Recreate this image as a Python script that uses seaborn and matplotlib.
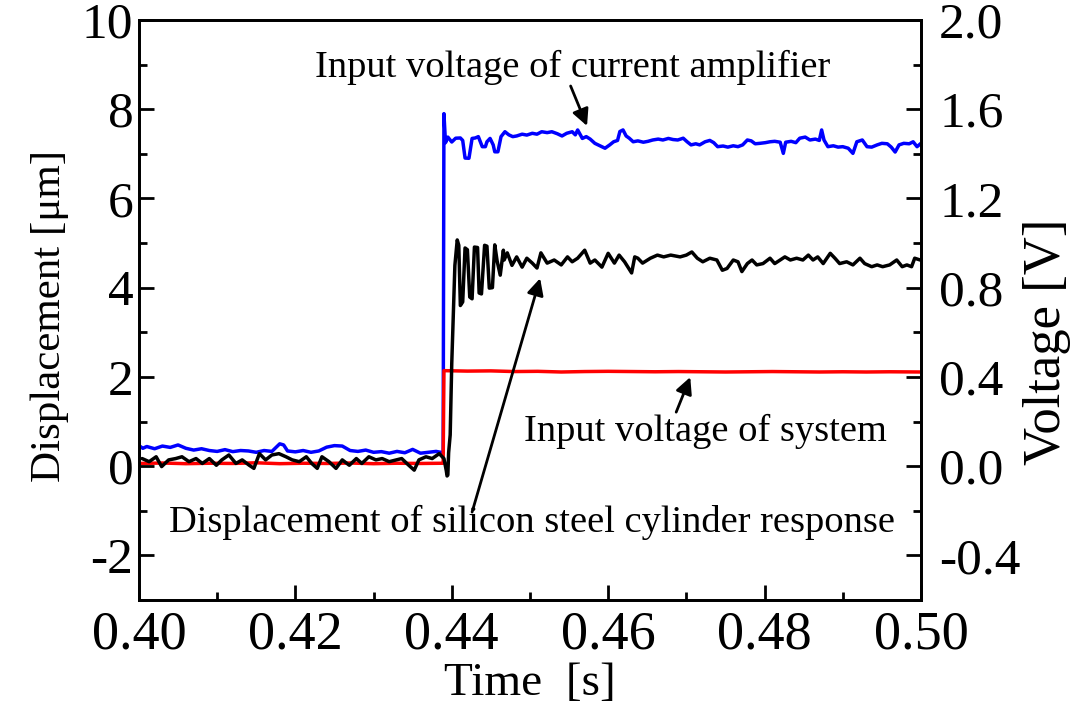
import numpy as np
import pandas as pd
import matplotlib
matplotlib.use("Agg")
import matplotlib.pyplot as plt
from matplotlib.ticker import MultipleLocator
import seaborn as sns

# ---------------- data ----------------
# Input voltage of current amplifier [V]
amp_t = [0.4000, 0.4005, 0.4010, 0.4020, 0.4030, 0.4040, 0.4050, 0.4060, 0.4070, 0.4080,
         0.4090, 0.4100, 0.4110, 0.4120, 0.4130, 0.4140, 0.4150, 0.4160, 0.4170, 0.4180,
         0.4185, 0.4190, 0.4200, 0.4210, 0.4220, 0.4230, 0.4240, 0.4250, 0.4260, 0.4270,
         0.4280, 0.4290, 0.4300, 0.4310, 0.4320, 0.4330, 0.4340, 0.4350, 0.4360, 0.4370,
         0.4380, 0.4389, 0.4390, 0.4392, 0.4395, 0.4400, 0.4405, 0.4411, 0.4414, 0.4417,
         0.4422, 0.4426, 0.4430, 0.4434, 0.4439, 0.4443, 0.4445, 0.4449, 0.4453, 0.4455,
         0.4459, 0.4463, 0.4468, 0.4473, 0.4478, 0.4483, 0.4490, 0.4496, 0.4503, 0.4509,
         0.4515, 0.4522, 0.4528, 0.4535, 0.4541, 0.4547, 0.4554, 0.4558, 0.4561, 0.4567,
         0.4572, 0.4577, 0.4583, 0.4590, 0.4596, 0.4602, 0.4607, 0.4612, 0.4615, 0.4619,
         0.4623, 0.4627, 0.4632, 0.4638, 0.4645, 0.4651, 0.4657, 0.4664, 0.4670, 0.4677,
         0.4683, 0.4689, 0.4696, 0.4701, 0.4706, 0.4712, 0.4717, 0.4724, 0.4730, 0.4735,
         0.4740, 0.4747, 0.4753, 0.4760, 0.4766, 0.4772, 0.4778, 0.4783, 0.4788, 0.4794,
         0.4801, 0.4807, 0.4813, 0.4820, 0.4824, 0.4827, 0.4834, 0.4840, 0.4845, 0.4852,
         0.4858, 0.4865, 0.4870, 0.4873, 0.4876, 0.4881, 0.4888, 0.4894, 0.4900, 0.4907,
         0.4913, 0.4918, 0.4925, 0.4931, 0.4937, 0.4944, 0.4950, 0.4957, 0.4962, 0.4967,
         0.4972, 0.4978, 0.4985, 0.4990, 0.4995, 0.5000]
amp_v = [0.092, 0.080, 0.088, 0.078, 0.090, 0.084, 0.095, 0.080, 0.072, 0.078,
         0.070, 0.066, 0.074, 0.065, 0.070, 0.068, 0.062, 0.070, 0.066, 0.100,
         0.095, 0.068, 0.064, 0.070, 0.062, 0.068, 0.085, 0.092, 0.090, 0.070,
         0.066, 0.072, 0.062, 0.065, 0.058, 0.066, 0.060, 0.075, 0.058, 0.062,
         0.066, 0.060, 1.580, 1.450, 1.475, 1.453, 1.470, 1.471, 1.460, 1.381,
         1.380, 1.469, 1.471, 1.477, 1.432, 1.432, 1.454, 1.469, 1.440, 1.409,
         1.409, 1.477, 1.499, 1.485, 1.477, 1.480, 1.488, 1.484, 1.492, 1.488,
         1.499, 1.495, 1.499, 1.490, 1.480, 1.492, 1.499, 1.485, 1.507, 1.469,
         1.477, 1.466, 1.447, 1.435, 1.425, 1.440, 1.454, 1.460, 1.500, 1.507,
         1.480, 1.470, 1.454, 1.458, 1.452, 1.456, 1.462, 1.466, 1.462, 1.469,
         1.464, 1.462, 1.470, 1.454, 1.440, 1.445, 1.440, 1.454, 1.460, 1.450,
         1.432, 1.435, 1.430, 1.436, 1.432, 1.440, 1.462, 1.458, 1.445, 1.447,
         1.450, 1.454, 1.456, 1.452, 1.402, 1.452, 1.456, 1.450, 1.470, 1.475,
         1.462, 1.466, 1.460, 1.507, 1.462, 1.432, 1.436, 1.430, 1.432, 1.425,
         1.402, 1.454, 1.462, 1.432, 1.430, 1.440, 1.447, 1.445, 1.430, 1.408,
         1.440, 1.447, 1.445, 1.454, 1.432, 1.447]

# Displacement of silicon steel cylinder response [um]
disp_t = [0.4004, 0.4013, 0.4022, 0.4029, 0.4038, 0.4047, 0.4055, 0.4064, 0.4073, 0.4081,
          0.4090, 0.4099, 0.4106, 0.4115, 0.4124, 0.4132, 0.4141, 0.4147, 0.4154, 0.4162,
          0.4170, 0.4179, 0.4188, 0.4196, 0.4205, 0.4214, 0.4221, 0.4228, 0.4234, 0.4243,
          0.4252, 0.4260, 0.4269, 0.4278, 0.4285, 0.4294, 0.4303, 0.4311, 0.4320, 0.4329,
          0.4336, 0.4345, 0.4352, 0.4358, 0.4367, 0.4375, 0.4384, 0.4390, 0.4393, 0.4394,
          0.4395, 0.4396, 0.4398, 0.4400, 0.4404, 0.4407, 0.4409, 0.4411, 0.4414, 0.4417,
          0.4420, 0.4423, 0.4426, 0.4429, 0.4433, 0.4435, 0.4438, 0.4442, 0.4445, 0.4448,
          0.4452, 0.4455, 0.4458, 0.4462, 0.4466, 0.4467, 0.4471, 0.4477, 0.4483, 0.4490,
          0.4496, 0.4503, 0.4509, 0.4514, 0.4522, 0.4531, 0.4540, 0.4548, 0.4554, 0.4561,
          0.4570, 0.4577, 0.4583, 0.4592, 0.4600, 0.4608, 0.4614, 0.4621, 0.4630, 0.4634,
          0.4638, 0.4644, 0.4654, 0.4663, 0.4671, 0.4680, 0.4692, 0.4700, 0.4707, 0.4714,
          0.4721, 0.4730, 0.4739, 0.4746, 0.4752, 0.4760, 0.4766, 0.4771, 0.4778, 0.4784,
          0.4790, 0.4798, 0.4807, 0.4813, 0.4820, 0.4826, 0.4833, 0.4841, 0.4849, 0.4856,
          0.4862, 0.4868, 0.4875, 0.4884, 0.4890, 0.4896, 0.4905, 0.4913, 0.4922, 0.4928,
          0.4937, 0.4944, 0.4951, 0.4960, 0.4969, 0.4976, 0.4982, 0.4988, 0.4992, 0.4999]
disp_d = [0.17, 0.10, 0.21, -0.01, 0.14, 0.17, 0.21, 0.10, 0.17, 0.06,
          0.17, 0.02, 0.14, 0.25, 0.06, 0.14, 0.02, -0.05, 0.28, 0.14,
          0.25, 0.28, 0.21, 0.14, 0.10, 0.21, 0.06, -0.05, 0.21, 0.10,
          -0.05, 0.14, 0.02, 0.17, 0.06, 0.21, 0.14, 0.17, 0.10, 0.14,
          0.17, 0.02, -0.09, 0.14, 0.21, 0.17, 0.28, 0.17, -0.10, -0.22,
          -0.20, 0.30, 0.70, 2.30, 4.50, 5.07, 4.95, 3.60, 3.68, 4.89,
          4.85, 3.79, 3.75, 4.91, 4.90, 3.88, 3.86, 4.95, 4.93, 3.99,
          4.00, 4.96, 4.60, 4.28, 4.84, 4.62, 4.78, 4.50, 4.69, 4.46,
          4.66, 4.55, 4.44, 4.78, 4.55, 4.62, 4.51, 4.69, 4.58, 4.66,
          4.84, 4.55, 4.62, 4.46, 4.77, 4.55, 4.73, 4.58, 4.33, 4.69,
          4.66, 4.55, 4.66, 4.73, 4.69, 4.73, 4.69, 4.73, 4.80, 4.66,
          4.58, 4.66, 4.62, 4.39, 4.43, 4.62, 4.58, 4.36, 4.54, 4.62,
          4.51, 4.54, 4.66, 4.54, 4.62, 4.69, 4.62, 4.66, 4.62, 4.73,
          4.62, 4.69, 4.54, 4.77, 4.66, 4.54, 4.58, 4.51, 4.66, 4.54,
          4.47, 4.51, 4.47, 4.51, 4.62, 4.47, 4.51, 4.47, 4.66, 4.62]

# Input voltage of system [V]
sys_t = [0.4000, 0.4030, 0.4060, 0.4090, 0.4120, 0.4150, 0.4180, 0.4210, 0.4240, 0.4270,
         0.4300, 0.4330, 0.4360, 0.4389, 0.4390, 0.4420, 0.4450, 0.4480, 0.4510, 0.4540,
         0.4570, 0.4600, 0.4630, 0.4660, 0.4690, 0.4720, 0.4750, 0.4780, 0.4810, 0.4840,
         0.4870, 0.4900, 0.4930, 0.4960, 0.5000]
sys_v = [0.012, 0.014, 0.011, 0.013, 0.012, 0.015, 0.011, 0.013, 0.012, 0.014,
         0.011, 0.013, 0.012, 0.013, 0.428, 0.426, 0.427, 0.424, 0.425, 0.422,
         0.424, 0.425, 0.424, 0.423, 0.424, 0.423, 0.422, 0.423, 0.424, 0.423,
         0.422, 0.423, 0.422, 0.423, 0.422]

x_ticks = [0.40, 0.42, 0.44, 0.46, 0.48, 0.50]
disp_ticks = [-2, 0, 2, 4, 6, 8, 10]
volt_ticks = [-0.4, 0.0, 0.4, 0.8, 1.2, 1.6, 2.0]

amp_df = pd.DataFrame({"t": amp_t, "v": amp_v})
disp_df = pd.DataFrame({"t": disp_t, "d": disp_d})
sys_df = pd.DataFrame({"t": sys_t, "v": sys_v})

# ---------------- style ----------------
sns.set_style("ticks")
plt.rcParams["font.family"] = ["Liberation Serif", "DejaVu Serif"]
for key in ("text.color", "axes.labelcolor", "xtick.color", "ytick.color",
            "axes.edgecolor"):
    plt.rcParams[key] = "black"

fig = plt.figure(figsize=(10.73, 7.13), dpi=100)
ax = fig.add_axes([0.1295, 0.1585, 0.7288, 0.8135])
ax2 = ax.twinx()
# displacement axis drawn above the voltage axis
ax.set_zorder(ax2.get_zorder() + 1)
ax.patch.set_visible(False)

lw = 2.5
sns.lineplot(data=amp_df, x="t", y="v", ax=ax2, color="#0000ff", lw=lw,
             estimator=None, sort=False, legend=False)
sns.lineplot(data=sys_df, x="t", y="v", ax=ax2, color="#ff0000", lw=lw,
             estimator=None, sort=False, legend=False)
sns.lineplot(data=disp_df, x="t", y="d", ax=ax, color="black", lw=lw,
             estimator=None, sort=False, legend=False)

ax.set_xlim(0.40, 0.50)
ax.set_ylim(-3, 10)
ax2.set_ylim(-0.6, 2.0)

ax.set_xticks(x_ticks)
ax.set_xticklabels([f"{v:.2f}" for v in x_ticks])
ax.set_yticks(disp_ticks)
ax.set_yticklabels([f"{v:d}" for v in disp_ticks])
ax2.set_yticks(volt_ticks)
ax2.set_yticklabels([f"{v:.1f}" for v in volt_ticks])
ax.xaxis.set_minor_locator(MultipleLocator(0.01))
ax.yaxis.set_minor_locator(MultipleLocator(1))
ax2.yaxis.set_minor_locator(MultipleLocator(0.2))

for a in (ax, ax2):
    a.tick_params(which="major", direction="in", length=11, width=2)
    a.tick_params(which="minor", direction="in", length=6, width=2)
    for s in a.spines.values():
        s.set_linewidth(2)
        s.set_visible(True)
ax.tick_params(axis="x", which="both", top=False, labelsize=39, pad=7)
ax.tick_params(axis="y", which="both", right=False, labelsize=37, pad=4)
ax2.tick_params(axis="y", which="both", left=False, right=True, labelsize=37, pad=13)

ax.set_xlabel("Time  [s]", fontsize=34)
ax.xaxis.set_label_coords(0.5, -0.108)
ax.set_ylabel("Displacement [\u03bcm]", fontsize=31)
ax.yaxis.set_label_coords(-0.090, 0.49)
ax2.set_ylabel("Voltage [V]", fontsize=38)
ax2.yaxis.set_label_coords(1.130, 0.445)

ann_fs = 27.7
arrow = dict(arrowstyle="-|>", color="black", lw=2, mutation_scale=25,
             shrinkA=0, shrinkB=0)

ax2.text(0.4554, 1.785, "Input voltage of current amplifier", fontsize=ann_fs,
         ha="center", va="center")
ax2.annotate("", xy=(0.4573, 1.525), xytext=(0.4552, 1.704), arrowprops=arrow)

ax2.text(0.4724, 0.155, "Input voltage of system", fontsize=ann_fs,
         ha="center", va="center")
ax2.annotate("", xy=(0.4705, 0.399), xytext=(0.4687, 0.242), arrowprops=arrow)

ax.text(0.4502, -1.27, "Displacement of silicon steel cylinder response",
        fontsize=ann_fs, ha="center", va="center")
ax.annotate("", xy=(0.4513, 4.21), xytext=(0.4426, -1.03), arrowprops=arrow)

fig.savefig("out.png", dpi=100)
